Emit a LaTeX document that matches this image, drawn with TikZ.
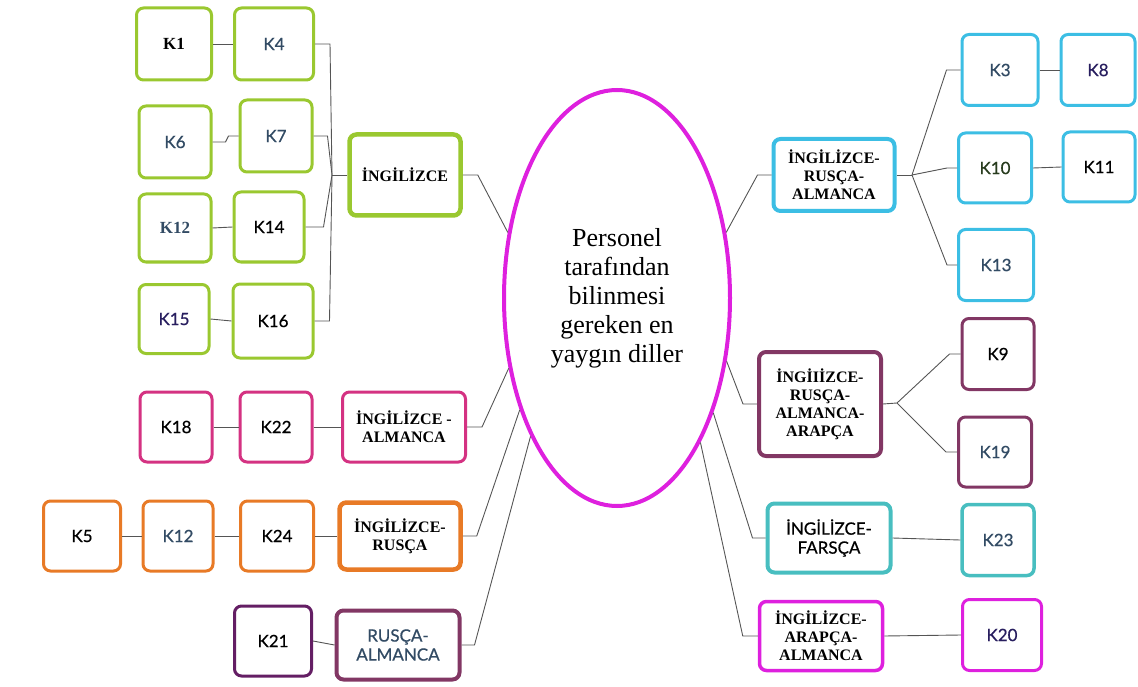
\documentclass[tikz,border=0pt]{standalone}
\usepackage{fontspec}
\setmainfont{Liberation Serif}
\newfontfamily\lato{Lato}[FakeBold=0.6]
\usetikzlibrary{shapes.geometric}
\definecolor{cgreen}{RGB}{154,200,48}
\definecolor{cpink}{RGB}{212,50,130}
\definecolor{corange}{RGB}{232,122,38}
\definecolor{cdpurple}{RGB}{100,30,100}
\definecolor{cplum}{RGB}{130,55,100}
\definecolor{ccyan}{RGB}{60,190,228}
\definecolor{cteal}{RGB}{72,190,192}
\definecolor{cmag}{RGB}{222,32,222}
\definecolor{cslate}{RGB}{50,75,100}
\definecolor{cnavy}{RGB}{40,30,95}
\definecolor{cdgreen}{RGB}{40,60,30}
\definecolor{cline}{RGB}{85,85,85}
\tikzset{
  kbox/.style={draw, rounded corners=7pt, line width=3pt, fill=white, align=center, inner sep=2pt,
    font=\lato\fontsize{17}{20}\selectfont},
  kserif/.style={font=\bfseries\fontsize{17}{20}\selectfont},
  lbox/.style={draw, rounded corners=7pt, line width=3pt, fill=white, align=center, inner sep=2pt,
    font=\bfseries\fontsize{16}{18}\selectfont},
  lsans/.style={font=\lato\fontsize{17}{19}\selectfont},
  conn/.style={draw=cline, line width=0.9pt},
}
\begin{document}
\begin{tikzpicture}[x=1pt,y=-1pt]
\useasboundingbox (0,0) rectangle (1138,687);
% central ellipse
\node[ellipse, draw=cmag, line width=4pt, minimum width=226pt, minimum height=416pt, align=center,
  font=\fontsize{26}{29}\selectfont, inner sep=0pt] (E) at (617,298)
  {Personel\\tarafından\\bilinmesi\\gereken en\\yaygın diller};
% left group: İNGİLİZCE
\node[kbox, kserif, draw=cgreen, minimum width=75pt, minimum height=72pt] (K1) at (174,44) {K1};
\node[kbox, draw=cgreen, text=cslate, minimum width=79pt, minimum height=72pt] (K4) at (274,44) {K4};
\node[kbox, draw=cgreen, text=cslate, minimum width=72pt, minimum height=72pt] (K6) at (175,142) {K6};
\node[kbox, draw=cgreen, text=cslate, minimum width=72pt, minimum height=72pt] (K7) at (276,136) {K7};
\node[kbox, kserif, draw=cgreen, text=cslate, minimum width=72pt, minimum height=68pt] (K12g) at (175,228) {K12};
\node[kbox, draw=cgreen, minimum width=70pt, minimum height=70pt] (K14) at (269,227) {K14};
\node[kbox, draw=cgreen, text=cnavy, minimum width=70pt, minimum height=69pt] (K15) at (174,319) {K15};
\node[kbox, draw=cgreen, minimum width=80pt, minimum height=74pt] (K16) at (273,321) {K16};
\node[lbox, draw=cgreen, line width=4.5pt, minimum width=111pt, minimum height=81pt] (ING) at (405,175) {İNGİLİZCE};
% left group: İNGİLİZCE - ALMANCA
\node[kbox, draw=cpink, minimum width=72pt, minimum height=70pt] (K18) at (176,427) {K18};
\node[kbox, draw=cpink, minimum width=72pt, minimum height=70pt] (K22) at (276,427) {K22};
\node[lbox, draw=cpink, minimum width=123pt, minimum height=70pt] (INGALM) at (404,427) {İNGİLİZCE -\\ALMANCA};
% left group: İNGİLİZCE-RUSÇA
\node[kbox, draw=corange, minimum width=77pt, minimum height=70pt] (K5) at (82,536) {K5};
\node[kbox, draw=corange, text=cslate, minimum width=70pt, minimum height=70pt] (K12o) at (178,536) {K12};
\node[kbox, draw=corange, minimum width=73pt, minimum height=70pt] (K24) at (277,536) {K24};
\node[lbox, draw=corange, line width=4.5pt, minimum width=121pt, minimum height=67pt] (INGRUS) at (400,536) {İNGİLİZCE-\\RUSÇA};
% left group: RUSÇA-ALMANCA
\node[kbox, draw=cdpurple, minimum width=77pt, minimum height=70pt] (K21) at (273,641) {K21};
\node[lbox, lsans, draw=cplum, line width=4pt, text=cslate, minimum width=123pt, minimum height=69pt] (RUSALM) at (398,645) {RUSÇA-\\ALMANCA};
% right group: İNGİLİZCE-RUSÇA-ALMANCA
\node[lbox, draw=ccyan, line width=4pt, minimum width=121pt, minimum height=72pt] (IRA) at (834,175) {İNGİLİZCE-\\RUSÇA-\\ALMANCA};
\node[kbox, draw=ccyan, text=cslate, minimum width=76pt, minimum height=71pt] (K3) at (1000,70) {K3};
\node[kbox, draw=ccyan, text=cnavy, minimum width=74pt, minimum height=71pt] (K8) at (1098,70) {K8};
\node[kbox, draw=ccyan, text=cdgreen, minimum width=73pt, minimum height=70pt] (K10) at (995,168) {K10};
\node[kbox, draw=ccyan, minimum width=72pt, minimum height=70pt] (K11) at (1099,167) {K11};
\node[kbox, draw=ccyan, text=cslate, minimum width=75pt, minimum height=71pt] (K13) at (996,265) {K13};
% right group: İNGİLİZCE-RUSÇA-ALMANCA-ARAPÇA
\node[lbox, draw=cplum, line width=4pt, minimum width=122pt, minimum height=104pt] (IRAA) at (820,404) {İNGİIİZCE-\\RUSÇA-\\ALMANCA-\\ARAPÇA};
\node[kbox, draw=cplum, minimum width=72pt, minimum height=71pt] (K9) at (998,354) {K9};
\node[kbox, draw=cplum, text=cslate, minimum width=73pt, minimum height=70pt] (K19) at (995,452) {K19};
% right group: İNGİLİZCE-FARSÇA
\node[lbox, lsans, draw=cteal, line width=4pt, minimum width=123pt, minimum height=69pt] (FAR) at (829,538) {İNGİLİZCE-\\FARSÇA};
\node[kbox, draw=cteal, line width=3.5pt, text=cslate, minimum width=72pt, minimum height=71pt] (K23) at (998,540) {K23};
% right group: İNGİLİZCE-ARAPÇA-ALMANCA
\node[lbox, draw=cmag, line width=3.5pt, minimum width=123pt, minimum height=69pt] (IAA) at (821,636) {İNGİLİZCE-\\ARAPÇA-\\ALMANCA};
\node[kbox, draw=cmag, text=cnavy, minimum width=79pt, minimum height=71pt] (K20) at (1002,635) {K20};
% junctions
\coordinate (jg) at (332,175);
\coordinate (jr) at (912,175);
\coordinate (ja) at (897,403);
% connectors: left
\draw[conn] (ING.west) -- (jg);
\draw[conn] (K4.east) -- ++(15,0) -- (jg);
\draw[conn] (K7.east) -- ++(14,0) -- (jg);
\draw[conn] (K14.east) -- ++(18,0) -- (jg);
\draw[conn] (K16.east) -- ++(15,0) -- (jg);
\draw[conn] (K1.east) -- (K4.west);
\draw[conn] (K6.east) -- ++(13,0) -- ([xshift=-10pt]K7.west) -- (K7.west);
\draw[conn] (K12g.east) -- (K14.west);
\draw[conn] (K15.east) -- (K16.west);
\draw[conn] (K18.east) -- (K22.west);
\draw[conn] (K22.east) -- (INGALM.west);
\draw[conn] (K5.east) -- (K12o.west);
\draw[conn] (K12o.east) -- (K24.west);
\draw[conn] (K24.east) -- (INGRUS.west);
\draw[conn] (K21.east) -- (RUSALM.west);
\draw[conn] (ING.east) -- ++(15,0) -- (E.149);
\draw[conn] (INGALM.east) -- ++(15,0) -- (E.213);
\draw[conn] (INGRUS.east) -- ++(14,0) -- (E.229);
\draw[conn] (RUSALM.east) -- ++(13,0) -- (E.238);
% connectors: right
\draw[conn] (IRA.west) -- ++(-14,0) -- (E.31);
\draw[conn] (IRAA.west) -- ++(-14,0) -- (E.330);
\draw[conn] (FAR.west) -- ++(-13,0) -- (E.310);
\draw[conn] (IAA.west) -- ++(-15,0) -- (E.300);
\draw[conn] (IRA.east) -- (jr);
\draw[conn] (jr) -- ([xshift=-14pt]K3.west) -- (K3.west);
\draw[conn] (jr) -- ([xshift=-10pt]K10.west) -- (K10.west);
\draw[conn] (jr) -- ([xshift=-10pt]K13.west) -- (K13.west);
\draw[conn] (K3.east) -- (K8.west);
\draw[conn] (K10.east) -- (K11.west);
\draw[conn] (IRAA.east) -- (ja);
\draw[conn] (ja) -- ([xshift=-11pt]K9.west) -- (K9.west);
\draw[conn] (ja) -- ([xshift=-11pt]K19.west) -- (K19.west);
\draw[conn] (FAR.east) -- (K23.west);
\draw[conn] (IAA.east) -- (K20.west);
\end{tikzpicture}
\end{document}
